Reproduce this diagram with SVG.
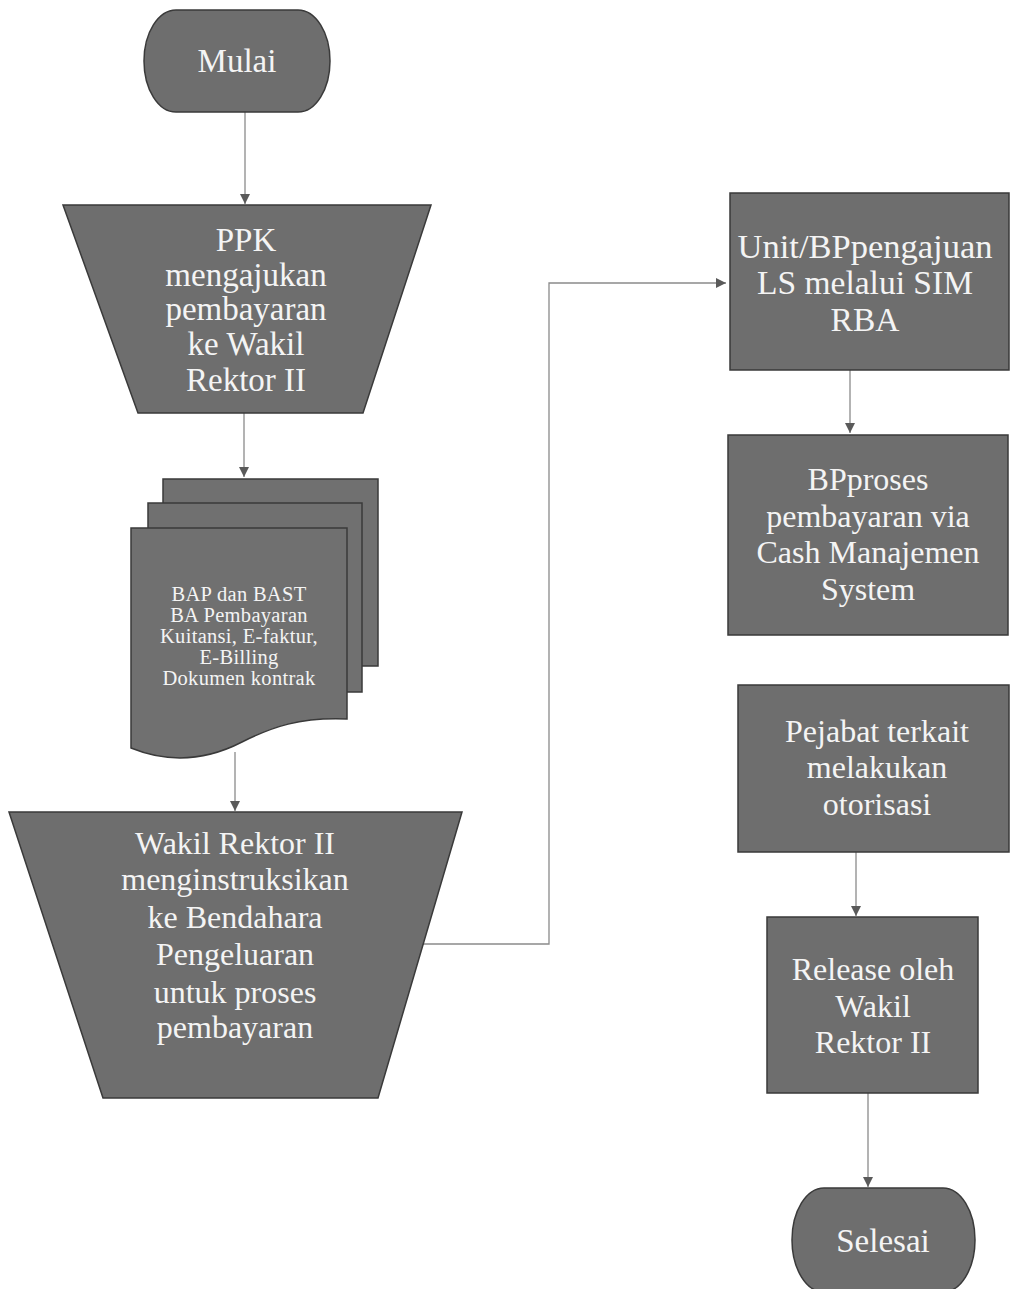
<svg xmlns="http://www.w3.org/2000/svg" width="1010" height="1289" viewBox="0 0 1010 1289">
  <defs>
    <style>
      .shape { fill: #6e6e6e; stroke: #3a3a3a; stroke-width: 1.5; }
      .sheet { fill: #707070; stroke: #3a3a3a; stroke-width: 1.5; }
      .label { font-family: "Liberation Serif", "Times New Roman", serif; fill: #f4f4f4; text-anchor: middle; }
      .big { font-size: 32px; }
      .mid { font-size: 33px; }
      .small { font-size: 20.5px; letter-spacing: 0.3px; }
      .wire { fill: none; stroke: #8a8a8a; stroke-width: 1.3; }
    </style>
    <marker id="arrow" viewBox="0 0 10 10" refX="10" refY="5" markerWidth="10" markerHeight="10" markerUnits="userSpaceOnUse" orient="auto">
      <path d="M0,0 L10,5 L0,10 Z" fill="#5a5a5a"/>
    </marker>
  </defs>

  <rect width="1010" height="1289" fill="#ffffff"/>

  <!-- connectors -->
  <g id="connectors">
    <line class="wire" x1="245" y1="112" x2="245" y2="204" marker-end="url(#arrow)"/>
    <line class="wire" x1="244" y1="413" x2="244" y2="477" marker-end="url(#arrow)"/>
    <line class="wire" x1="235" y1="752" x2="235" y2="811" marker-end="url(#arrow)"/>
    <polyline class="wire" points="423,944 549,944 549,283 726,283" marker-end="url(#arrow)"/>
    <line class="wire" x1="850" y1="370" x2="850" y2="433" marker-end="url(#arrow)"/>
    <line class="wire" x1="856" y1="852" x2="856" y2="916" marker-end="url(#arrow)"/>
    <line class="wire" x1="868" y1="1093" x2="868" y2="1187" marker-end="url(#arrow)"/>
  </g>

  <!-- start terminator -->
  <g id="mulai">
    <rect class="shape" x="144" y="10" width="186" height="102" rx="32" ry="51"/>
    <text class="label mid" x="237" y="72">Mulai</text>
  </g>

  <!-- manual operation: PPK -->
  <g id="ppk">
    <polygon class="shape" points="63,205 431,205 363,413 138,413"/>
    <text class="label mid" x="246" y="251">PPK</text>
    <text class="label mid" x="246" y="286">mengajukan</text>
    <text class="label mid" x="246" y="320">pembayaran</text>
    <text class="label mid" x="246" y="355">ke Wakil</text>
    <text class="label mid" x="246" y="391">Rektor II</text>
  </g>

  <!-- multi-document stack -->
  <g id="dokumen">
    <rect class="sheet" x="163" y="479" width="215" height="187"/>
    <rect class="sheet" x="148" y="503" width="214" height="189"/>
    <path class="sheet" d="M131,528 H347 V719 C300,717 272,727 242,742 C205,761 168,763 131,748 Z"/>
    <text class="label small" x="239" y="601">BAP dan BAST</text>
    <text class="label small" x="239" y="622">BA Pembayaran</text>
    <text class="label small" x="239" y="643">Kuitansi, E-faktur,</text>
    <text class="label small" x="239" y="664">E-Billing</text>
    <text class="label small" x="239" y="685">Dokumen kontrak</text>
  </g>

  <!-- manual operation: Wakil Rektor II -->
  <g id="wakil-rektor">
    <polygon class="shape" points="9,812 462,812 378,1098 103,1098"/>
    <text class="label big" x="235" y="854">Wakil Rektor II</text>
    <text class="label big" x="235" y="890">menginstruksikan</text>
    <text class="label big" x="235" y="928">ke Bendahara</text>
    <text class="label big" x="235" y="965">Pengeluaran</text>
    <text class="label big" x="235" y="1003">untuk proses</text>
    <text class="label big" x="235" y="1038">pembayaran</text>
  </g>

  <!-- process: Unit/BP -->
  <g id="unit-bp">
    <rect class="shape" x="730" y="193" width="279" height="177"/>
    <text class="label" x="865" y="258" font-size="34.5">Unit/BPpengajuan</text>
    <text class="label" x="865" y="294" font-size="33.5">LS melalui SIM</text>
    <text class="label" x="865" y="331" font-size="33.5">RBA</text>
  </g>

  <!-- process: BP proses -->
  <g id="bp-proses">
    <rect class="shape" x="728" y="435" width="280" height="200"/>
    <text class="label big" x="868" y="490">BPproses</text>
    <text class="label big" x="868" y="527">pembayaran via</text>
    <text class="label big" x="868" y="563">Cash Manajemen</text>
    <text class="label big" x="868" y="600">System</text>
  </g>

  <!-- process: Pejabat -->
  <g id="pejabat">
    <rect class="shape" x="738" y="685" width="271" height="167"/>
    <text class="label big" x="877" y="742">Pejabat terkait</text>
    <text class="label big" x="877" y="778">melakukan</text>
    <text class="label big" x="877" y="815">otorisasi</text>
  </g>

  <!-- process: Release -->
  <g id="release">
    <rect class="shape" x="767" y="917" width="211" height="176"/>
    <text class="label big" x="873" y="980">Release oleh</text>
    <text class="label big" x="873" y="1017">Wakil</text>
    <text class="label big" x="873" y="1053">Rektor II</text>
  </g>

  <!-- end terminator -->
  <g id="selesai">
    <rect class="shape" x="792" y="1188" width="183" height="104" rx="32" ry="52"/>
    <text class="label mid" x="883" y="1252">Selesai</text>
  </g>
</svg>
